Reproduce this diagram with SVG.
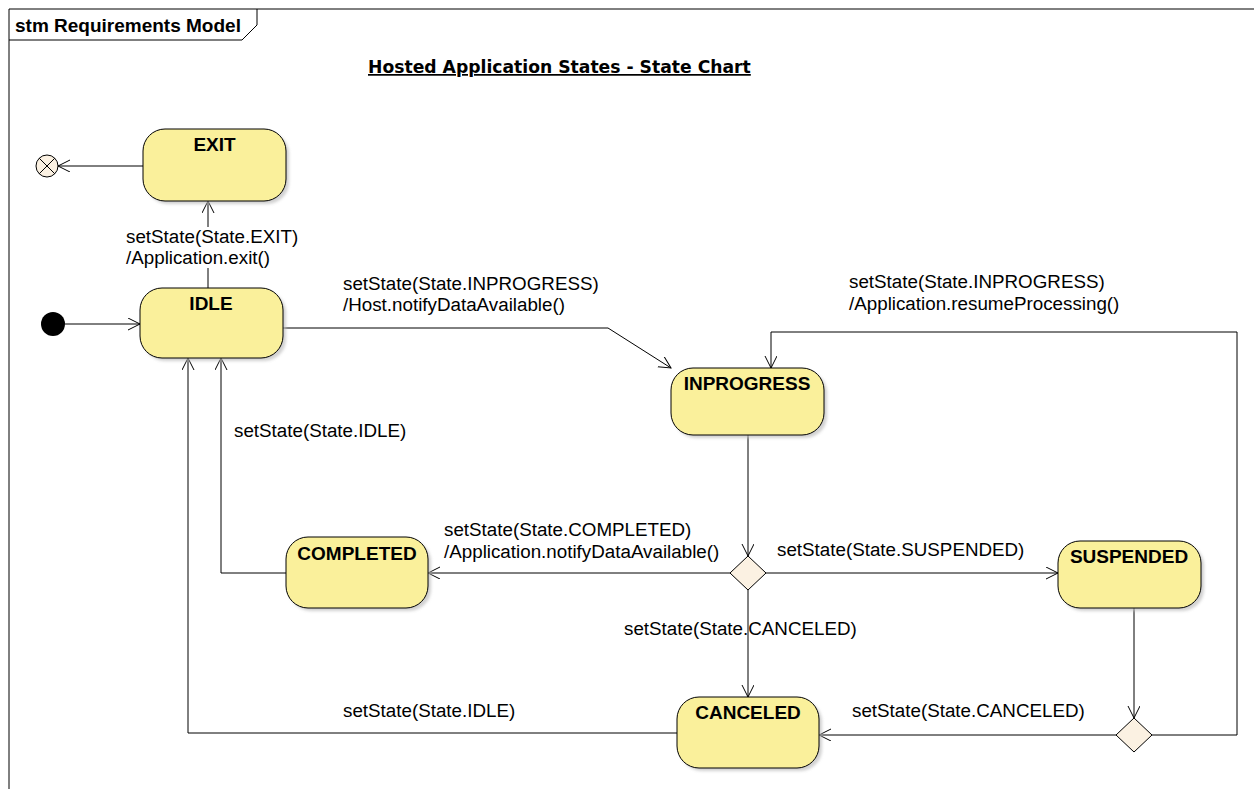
<svg xmlns="http://www.w3.org/2000/svg" width="1254" height="789" viewBox="0 0 1254 789">
<style>
.frame{fill:none;stroke:#000;stroke-width:1}
.node{fill:#FAF09B;stroke:#000;stroke-width:1}
.shadow{fill:#bdbdbd;opacity:0.7}
.pseudo{fill:#FBF1E2;stroke:#000;stroke-width:1}
.conn{fill:none;stroke:#000;stroke-width:1}
.name{font-family:"Liberation Sans",Arial,sans-serif;font-weight:bold;font-size:19px;text-anchor:middle;fill:#000}
.lbl{font-family:"Liberation Sans",Arial,sans-serif;font-size:18.8px;fill:#000}
.hdr{font-family:"Liberation Sans",Arial,sans-serif;font-weight:bold;font-size:19px;fill:#000}
.title{font-family:"DejaVu Sans",Verdana,sans-serif;font-weight:bold;font-size:17.2px;text-decoration:underline;fill:#000}
</style>
<defs>
<marker id="arr" markerUnits="userSpaceOnUse" markerWidth="14" markerHeight="14" refX="12" refY="6" orient="auto">
<path d="M0,0 L12,6 L0,12" fill="none" stroke="#000" stroke-width="1"/>
</marker>
<filter id="blur" x="-10%" y="-10%" width="130%" height="130%"><feGaussianBlur stdDeviation="1.5"/></filter>
</defs>
<rect width="1254" height="789" fill="#fff"/>
<g id="frame">
<path class="frame" d="M9,789 L9,9 L1254,9"/>
<path class="frame" d="M9,40 L242,40 L257,25 L257,9"/>
<text class="hdr" x="15" y="32">stm Requirements Model</text>
<text class="title" x="368" y="73">Hosted Application States - State Chart</text>
</g>
<g id="connectors">
<path class="conn" d="M143,166 L58,166" marker-end="url(#arr)"/>
<path class="conn" d="M65,324 L140,324" marker-end="url(#arr)"/>
<path class="conn" d="M208,288 L208,201" marker-end="url(#arr)"/>
<path class="conn" d="M283,328 L608,328 L671,368" marker-end="url(#arr)"/>
<path class="conn" d="M748,435 L748,556" marker-end="url(#arr)"/>
<path class="conn" d="M730,573 L428,573" marker-end="url(#arr)"/>
<path class="conn" d="M286,573 L221,573 L221,358" marker-end="url(#arr)"/>
<path class="conn" d="M766,573 L1058,573" marker-end="url(#arr)"/>
<path class="conn" d="M748,590 L748,697" marker-end="url(#arr)"/>
<path class="conn" d="M677,733 L188,733 L188,358" marker-end="url(#arr)"/>
<path class="conn" d="M1134,608 L1134,718" marker-end="url(#arr)"/>
<path class="conn" d="M1116,735 L819,735" marker-end="url(#arr)"/>
<path class="conn" d="M1152,735 L1237,735 L1237,332 L771,332 L771,368" marker-end="url(#arr)"/>
<rect x="124" y="227" width="178" height="41" fill="#fff"/>
<text class="lbl" x="126" y="243">setState(State.EXIT)</text>
<text class="lbl" x="126" y="264">/Application.exit()</text>
<text class="lbl" x="343" y="290">setState(State.INPROGRESS)</text>
<text class="lbl" x="343" y="311">/Host.notifyDataAvailable()</text>
<text class="lbl" x="849" y="288">setState(State.INPROGRESS)</text>
<text class="lbl" x="849" y="310">/Application.resumeProcessing()</text>
<text class="lbl" x="234" y="437">setState(State.IDLE)</text>
<text class="lbl" x="444" y="536">setState(State.COMPLETED)</text>
<text class="lbl" x="444" y="558">/Application.notifyDataAvailable()</text>
<text class="lbl" x="777" y="556">setState(State.SUSPENDED)</text>
<text class="lbl" x="624" y="635">setState(State.CANCELED)</text>
<text class="lbl" x="343" y="717">setState(State.IDLE)</text>
<text class="lbl" x="852" y="717">setState(State.CANCELED)</text>
</g>
<g id="initial">
<circle cx="53" cy="324" r="12" fill="#000"/>
</g>
<g id="final">
<circle class="pseudo" cx="47" cy="166" r="11"/>
<path class="conn" d="M39.2,158.2 L54.8,173.8 M54.8,158.2 L39.2,173.8"/>
</g>
<g id="EXIT">
<rect class="shadow" x="146" y="132" width="143" height="72" rx="22" filter="url(#blur)"/>
<rect class="node" x="143" y="129" width="143" height="72" rx="22"/>
<text class="name" x="214.5" y="151">EXIT</text>
</g>
<g id="IDLE">
<rect class="shadow" x="143" y="291" width="143" height="70" rx="22" filter="url(#blur)"/>
<rect class="node" x="140" y="288" width="143" height="70" rx="22"/>
<text class="name" x="211" y="310">IDLE</text>
</g>
<g id="INPROGRESS">
<rect class="shadow" x="674" y="371" width="153" height="67" rx="22" filter="url(#blur)"/>
<rect class="node" x="671" y="368" width="153" height="67" rx="22"/>
<text class="name" x="747" y="390">INPROGRESS</text>
</g>
<g id="COMPLETED">
<rect class="shadow" x="289" y="540" width="142" height="71" rx="22" filter="url(#blur)"/>
<rect class="node" x="286" y="537" width="142" height="71" rx="22"/>
<text class="name" x="357" y="560">COMPLETED</text>
</g>
<g id="SUSPENDED">
<rect class="shadow" x="1061" y="544" width="143" height="67" rx="22" filter="url(#blur)"/>
<rect class="node" x="1058" y="541" width="143" height="67" rx="22"/>
<text class="name" x="1129" y="563">SUSPENDED</text>
</g>
<g id="CANCELED">
<rect class="shadow" x="680" y="700" width="142" height="71" rx="22" filter="url(#blur)"/>
<rect class="node" x="677" y="697" width="142" height="71" rx="22"/>
<text class="name" x="748" y="719">CANCELED</text>
</g>
<g id="decision1">
<path class="pseudo" d="M748,556 L766,573 L748,590 L730,573 Z"/>
</g>
<g id="decision2">
<path class="pseudo" d="M1134,718 L1152,735 L1134,752 L1116,735 Z"/>
</g>
</svg>
